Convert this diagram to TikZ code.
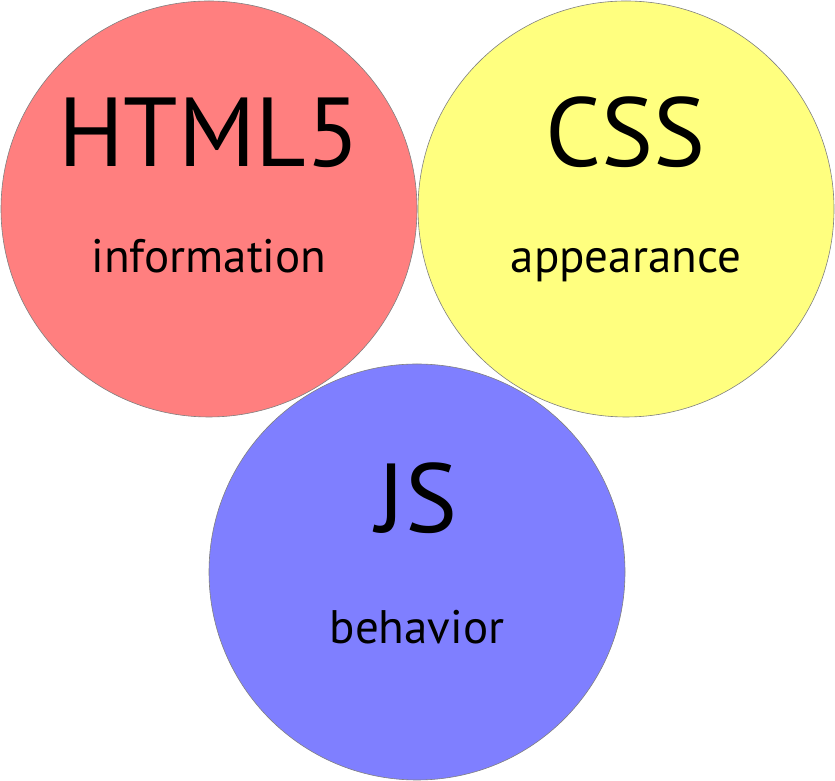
\documentclass[tikz,border=0pt]{standalone}
\usepackage{fontspec}
\setmainfont{PT Sans}
\tikzset{
    topic/.style={circle, draw=black!50, line width=0.6pt, minimum size=416pt, inner sep=0pt},
    title/.style={anchor=base, font=\fontsize{98}{98}\selectfont, inner sep=0pt},
    role/.style={anchor=base, font=\fontsize{47}{47}\selectfont, inner sep=0pt}
}
\begin{document}
\begin{tikzpicture}[x=1pt, y=1pt]
    \useasboundingbox (0, 0) rectangle (835, 781);
    \node[topic, fill={rgb,255:red,255;green,127;blue,127}] (html) at (209, 572) {};
    \node[topic, fill={rgb,255:red,255;green,255;blue,127}] (css) at (626, 572) {};
    \node[topic, fill={rgb,255:red,127;green,127;blue,255}] (js) at (417, 209) {};
    \node[title] (htmltitle) at (209, 614) {HTML5};
    \node[role] (htmlrole) at (209, 508) {information};
    \node[title] (csstitle) at (626, 614) {CSS};
    \node[role] (cssrole) at (626, 508) {appearance};
    \node[title] (jstitle) at (417, 248) {JS};
    \node[role] (jsrole) at (417, 137) {behavior};
\end{tikzpicture}
\end{document}
